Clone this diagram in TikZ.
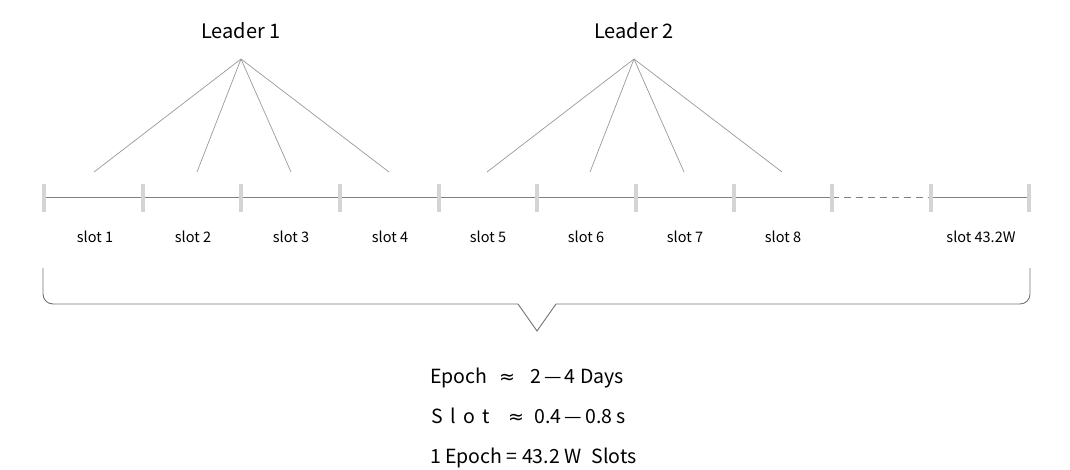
\documentclass[tikz,border=0pt]{standalone}
\usepackage{fontspec}
\setmainfont{Noto Sans CJK SC}
\newfontfamily\symfont{DejaVu Sans}
\begin{document}
\begin{tikzpicture}[x=1pt,y=-1pt,
  leaderlbl/.style={font=\fontsize{20}{22}\selectfont, text=black, inner sep=0},
  slotlbl/.style={font=\fontsize{14.5}{16}\selectfont, text=black, inner sep=0},
  eqlbl/.style={font=\fontsize{19.5}{21}\selectfont, text=black, inner sep=0, anchor=base west},
  fan/.style={draw=black!40, line width=0.7pt},
  axis/.style={draw=black!50, line width=1pt},
  tickmark/.style={draw=black!17, line width=4pt},
  bracel/.style={draw=black!55, line width=0.9pt, rounded corners=10pt}]
\useasboundingbox (0,0) rectangle (1070,470);
\foreach \i/\x in {0/44,1/143,2/241,3/340,4/439,5/537,6/636,7/734,8/832,9/931,10/1029}{
  \coordinate (t\i) at (\x,198);
}
\draw[axis] (t0) -- (t8);
\draw[axis, dash pattern=on 7pt off 5pt] (t8) -- (t9);
\draw[axis] (t9) -- (t10);
\foreach \i in {0,...,10}{
  \draw[tickmark] ([yshift=-14pt]t\i) -- ([yshift=14pt]t\i);
}
\node[leaderlbl] (L1) at (241,31) {Leader 1};
\node[leaderlbl] (L2) at (634,31) {Leader 2};
\coordinate (a1) at (241,59);
\coordinate (a2) at (634,59);
\foreach \n/\x in {1/94,2/197,3/291,4/389}{
  \coordinate (e1\n) at (\x,172);
  \draw[fan] (a1) -- (e1\n);
}
\foreach \n/\x in {1/487,2/590,3/684,4/782}{
  \coordinate (e2\n) at (\x,172);
  \draw[fan] (a2) -- (e2\n);
}
\foreach \n/\x in {1/95,2/193,3/291,4/390,5/488,6/586,7/685,8/783}{
  \node[slotlbl] (s\n) at (\x,237) {slot \n};
}
\node[slotlbl] (s9) at (981,237) {slot 43.2W};
\draw[bracel] (43,268) -- (43,304) -- (518,304);
\draw[bracel, rounded corners=0pt] (518,304) -- (537,331) -- (556,304);
\draw[bracel] (556,304) -- (1030,304) -- (1030,268);
\node[eqlbl] (q1a) at (430,383) {Epoch};
\node[eqlbl] (q1b) at (499,383) {\symfont\fontsize{19}{20}\selectfont ≈};
\node[eqlbl] (q1c) at (530,383) {2\,—\,4 Days};
\node[eqlbl] (q2a) at (431,423) {S\hspace{0.38em}l\hspace{0.38em}o\hspace{0.38em}t};
\node[eqlbl] (q2b) at (508,423) {\symfont\fontsize{19}{20}\selectfont ≈};
\node[eqlbl] (q2c) at (534,423) {0.4\,—\,0.8 s};
\node[eqlbl] (q3) at (430,463) {1 Epoch = 43.2 W\hspace{0.3em} Slots};
\end{tikzpicture}
\end{document}
